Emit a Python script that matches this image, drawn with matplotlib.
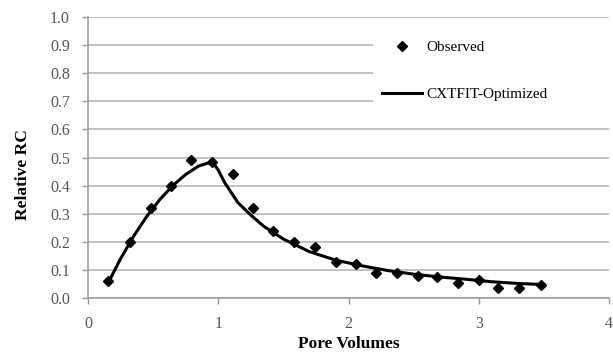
import numpy as np
import matplotlib.pyplot as plt

# observed points
obs_x = [0.15, 0.32, 0.48, 0.64, 0.79, 0.95, 1.11, 1.27, 1.42, 1.58, 1.74,
         1.90, 2.06, 2.21, 2.37, 2.53, 2.68, 2.84, 3.00, 3.15, 3.31, 3.48]
obs_y = [0.06, 0.20, 0.32, 0.40, 0.49, 0.485, 0.44, 0.32, 0.24, 0.20, 0.18,
         0.13, 0.12, 0.09, 0.09, 0.08, 0.075, 0.055, 0.065, 0.035, 0.035, 0.045]

# fitted curve
fit_x = [0.15, 0.25, 0.35, 0.45, 0.55, 0.65, 0.75, 0.85, 0.92, 0.97, 1.00,
         1.05, 1.15, 1.25, 1.35, 1.50, 1.70, 1.90, 2.10, 2.30, 2.50, 2.70,
         2.90, 3.10, 3.30, 3.50]
fit_y = [0.05, 0.14, 0.22, 0.29, 0.35, 0.40, 0.44, 0.47, 0.48, 0.475, 0.455,
         0.41, 0.34, 0.295, 0.255, 0.21, 0.165, 0.135, 0.115, 0.098, 0.085, 0.075,
         0.067, 0.058, 0.052, 0.048]

plt.rcParams['font.family'] = ['Liberation Serif', 'DejaVu Serif']

fig = plt.figure(figsize=(6.13, 3.54), dpi=100)
ax = fig.add_axes([0.1436, 0.158, 0.85, 0.794])

ax.plot(obs_x, obs_y, 'D', color='black', markersize=5.5, label='Observed', zorder=3)
ax.plot(fit_x, fit_y, '-', color='black', linewidth=2.2, label='CXTFIT-Optimized', zorder=2)

ax.set_xlim(0, 4)
ax.set_ylim(0, 1.0)
ax.set_xticks(np.arange(0, 5, 1))
ax.set_yticks(np.arange(0, 1.01, 0.1))
ax.set_yticklabels(['%.1f' % v for v in np.arange(0, 1.01, 0.1)])
ax.grid(axis='y', color='#b5b0b0', linewidth=1.1)
ax.set_axisbelow(True)

for s in ['top', 'right']:
    ax.spines[s].set_visible(False)
for s in ['left', 'bottom']:
    ax.spines[s].set_color('#999999')
    ax.spines[s].set_linewidth(1.1)
ax.tick_params(colors='#999999', labelcolor='#555555', labelsize=11.5, length=4, width=1)
ax.tick_params(axis='y', pad=9)
ax.tick_params(axis='x', pad=9)

ax.set_xlabel('Pore Volumes', fontsize=12.5, fontweight='bold', labelpad=3)
ax.set_ylabel('Relative RC', fontsize=12.5, fontweight='bold')
ax.yaxis.set_label_coords(-0.11, 0.44)

leg = ax.legend(loc='upper left', bbox_to_anchor=(0.547, 0.65, 0.46, 0.3), mode='expand',
                frameon=True, fancybox=False, edgecolor='white', framealpha=1,
                fontsize=11, labelspacing=2.2, handlelength=2.6, handletextpad=0.3,
                borderpad=0.6, borderaxespad=0)
leg.get_frame().set_linewidth(0)

fig.savefig('out.png', dpi=100)
